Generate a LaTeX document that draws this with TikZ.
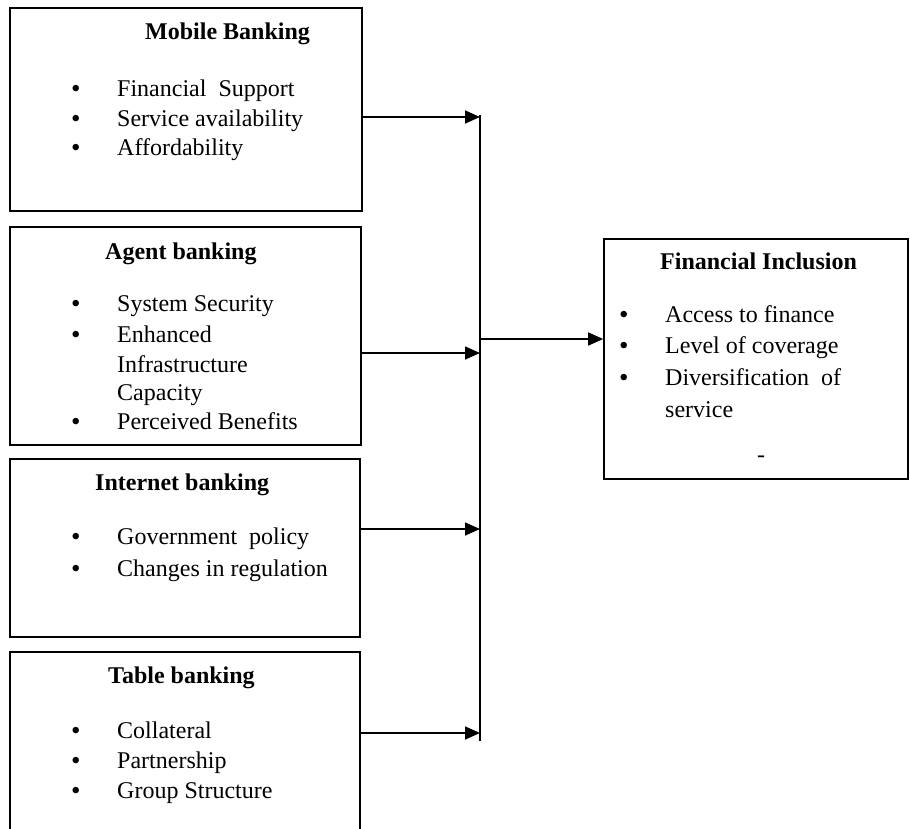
\documentclass[tikz,border=0pt]{standalone}
\usepackage{fontspec}
\setmainfont{Liberation Serif}
\usetikzlibrary{arrows.meta}
\tikzset{
  boxnode/.style={draw, line width=1.6pt, rectangle, inner sep=0pt},
  ttl/.style={anchor=base west, inner sep=0pt, font=\fontsize{24}{28}\selectfont\bfseries},
  itm/.style={anchor=base west, inner sep=0pt, font=\fontsize{24}{28}\selectfont},
  bul/.style={anchor=base west, inner sep=0pt, font=\fontsize{27}{28}\selectfont},
  conn/.style={line width=1.6pt},
  arr/.style={line width=1.6pt, -{Triangle[length=15pt,width=13pt]}}
}
\begin{document}
\begin{tikzpicture}[x=1pt,y=-1pt]
\useasboundingbox (0,0) rectangle (910,828);
\clip (0,0) rectangle (910,828);
% boxes
\node[boxnode, minimum width=352pt, minimum height=203pt] (b1) at (186,109.5) {};
\node[boxnode, minimum width=351pt, minimum height=218pt] (b2) at (185.5,336) {};
\node[boxnode, minimum width=350pt, minimum height=178pt] (b3) at (185,548) {};
\node[boxnode, minimum width=350pt, minimum height=200pt] (b4) at (185,752) {};
\node[boxnode, minimum width=304pt, minimum height=240pt] (fi) at (756,359) {};
% Mobile banking
\node[ttl] (t1) at (145,39) {Mobile Banking};
\node[bul] (p11) at (71,97) {•};
\node[itm] (i11) at (117,96) {Financial\ \ Support};
\node[bul] (p12) at (71,127) {•};
\node[itm] (i12) at (117,126) {Service availability};
\node[bul] (p13) at (71,156) {•};
\node[itm] (i13) at (117,155) {Affordability};
% Agent banking
\node[ttl] (t2) at (105,259) {Agent banking};
\node[bul] (p21) at (71,312) {•};
\node[itm] (i21) at (117,311) {System Security};
\node[bul] (p22) at (71,343) {•};
\node[itm] (i22) at (117,342) {Enhanced};
\node[itm] (i23) at (117,372) {Infrastructure};
\node[itm] (i24) at (117,400) {Capacity};
\node[bul] (p25) at (71,430) {•};
\node[itm] (i25) at (117,429) {Perceived Benefits};
% Internet banking
\node[ttl] (t3) at (95,490) {Internet banking};
\node[bul] (p31) at (71,545) {•};
\node[itm] (i31) at (117,544) {Government\ \ policy};
\node[bul] (p32) at (71,577) {•};
\node[itm] (i32) at (117,576) {Changes in regulation};
% Table banking
\node[ttl] (t4) at (108,683) {Table banking};
\node[bul] (p41) at (71,739) {•};
\node[itm] (i41) at (117,738) {Collateral};
\node[bul] (p42) at (71,769) {•};
\node[itm] (i42) at (117,768) {Partnership};
\node[bul] (p43) at (71,799) {•};
\node[itm] (i43) at (117,798) {Group Structure};
% Financial inclusion
\node[ttl] (t5) at (660,269) {Financial Inclusion};
\node[bul] (p51) at (619,323) {•};
\node[itm] (i51) at (665,322) {Access to finance};
\node[bul] (p52) at (619,354) {•};
\node[itm] (i52) at (665,353) {Level of coverage};
\node[bul] (p53) at (619,386) {•};
\node[itm] (i53) at (665,385) {Diversification\ \ of};
\node[itm] (i54) at (665,417) {service};
\node[itm] (d5) at (757,462) {-};
% connectors
\coordinate (vtop) at (480,115);
\coordinate (vbot) at (480,741);
\coordinate (j1) at (480,117);
\coordinate (j2) at (480,353);
\coordinate (j3) at (480,529);
\coordinate (j4) at (480,733);
\coordinate (jo) at (481,339);
\draw[conn] (vtop) -- (vbot);
\draw[arr] (b1.east |- j1) -- (j1);
\draw[arr] (b2.east |- j2) -- (j2);
\draw[arr] (b3.east |- j3) -- (j3);
\draw[arr] (b4.east |- j4) -- (j4);
\draw[arr] (jo) -- (fi.west |- jo);
\end{tikzpicture}
\end{document}
